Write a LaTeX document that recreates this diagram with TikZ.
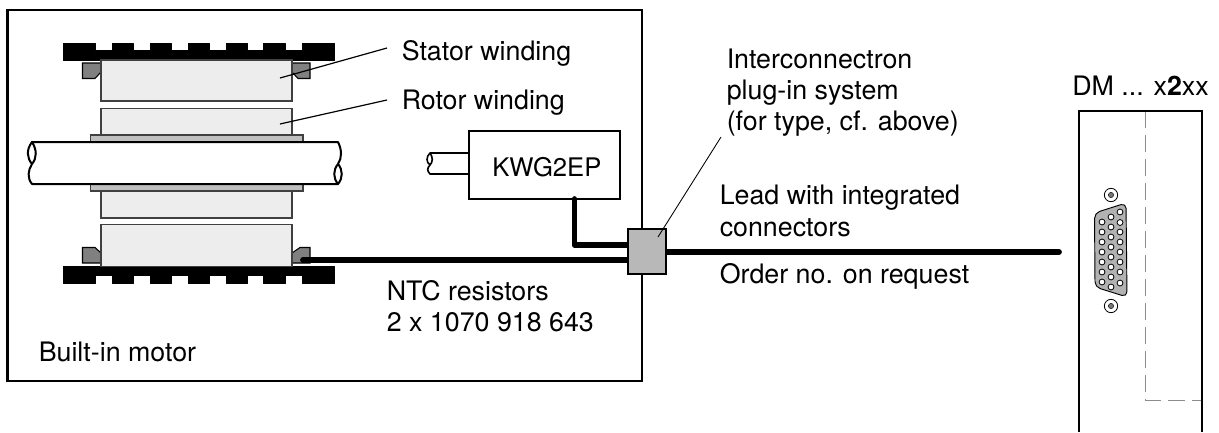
\documentclass[tikz,border=0pt]{standalone}
\usepackage{fontspec}
\setmainfont{TeX Gyre Heros}
\tikzset{
  box/.style={draw=black,line width=1.6pt,fill=white,inner sep=0pt},
  winding/.style={draw=black!75,line width=.9pt,fill=black!7,inner sep=0pt,minimum width=143.25pt},
  plate/.style={draw=black!75,line width=.9pt,fill=black!25,inner sep=0pt,minimum width=159.4pt,minimum height=5.25pt},
  endcap/.style={draw=black,line width=.8pt,fill=black!50},
  iron/.style={fill=black,draw=black,line width=.4pt,line join=round},
  cable/.style={line width=4.3pt,line cap=round,line join=round},
  leader/.style={line width=.9pt},
  thinleader/.style={line width=.65pt},
  shaftline/.style={line width=1.5pt},
  label/.style={anchor=base west,inner sep=0pt,font=\fontsize{20.1pt}{23pt}\selectfont},
  pin/.style={circle,draw=black,line width=.6pt,fill=white,inner sep=0pt,minimum size=4.4pt},
  screw/.style={circle,draw=black,line width=.6pt,fill=white,inner sep=0pt,minimum size=10pt},
  screwcore/.style={circle,fill=black!55,draw=black,line width=.3pt,inner sep=0pt,minimum size=4pt},
  hidden/.style={draw=black!45,line width=.7pt,dash pattern=on 13pt off 5pt},
  plugbox/.style={draw=black,line width=1.5pt,fill=black!28,inner sep=0pt,minimum width=28.5pt,minimum height=33.75pt}
}
\begin{document}
\begin{tikzpicture}[x=.75pt,y=-.75pt]
\useasboundingbox (0,0) rectangle (1219,432);
\fill[white] (0,0) rectangle (1219,432);
% housing
\node[box,minimum width=476pt,minimum height=278.25pt] (motor) at (324.8,195.5) {};
% laminations
\draw[iron] (63,43)--(95,43)--(95,50.5)--(112,50.5)--(112,43)--(133,43)--(133,50.5)--(150,50.5)--(150,43)--(171,43)--(171,50.5)--(188,50.5)--(188,43)--(209,43)--(209,50.5)--(226,50.5)--(226,43)--(247,43)--(247,50.5)--(263,50.5)--(263,43)--(285,43)--(285,50.5)--(302,50.5)--(302,43)--(334,43)--(334,60)--(63,60)--cycle;
\draw[iron] (63,266)--(334,266)--(334,283)--(302,283)--(302,275.5)--(285,275.5)--(285,283)--(263,283)--(263,275.5)--(247,275.5)--(247,283)--(226,283)--(226,275.5)--(209,275.5)--(209,283)--(188,283)--(188,275.5)--(171,275.5)--(171,283)--(150,283)--(150,275.5)--(133,275.5)--(133,283)--(112,283)--(112,275.5)--(95,275.5)--(95,283)--(63,283)--cycle;
% end caps
\draw[endcap] (82.5,63)--(101,63)--(101,72)--(95,78.5)--(82.5,78.5)--cycle;
\draw[endcap] (292,63)--(310,63)--(310,78.5)--(298,78.5)--(292,72)--cycle;
\draw[endcap] (82.5,247.5)--(95,247.5)--(101,253)--(101,263)--(82.5,263)--cycle;
\draw[endcap] (292,253)--(300,247.5)--(310,247.5)--(310,263)--(292,263)--cycle;
% windings
\node[winding,minimum height=30.75pt] (statorA) at (196.5,80.5) {};
\node[winding,minimum height=19.9pt] (rotorA) at (196.5,121.8) {};
\node[winding,minimum height=20.25pt] (rotorB) at (196.5,204.5) {};
\node[winding,minimum height=31.5pt] (statorB) at (196.5,245.5) {};
\node[plate] (plateA) at (196.7,138.5) {};
\node[plate] (plateB) at (196.7,187.5) {};
% shaft
\fill[white] (32,142)--(338,142)--(338,184)--(32,184)--cycle;
\draw[shaftline,line cap=round]
  (32,142)--(338,142)
  (32,184)--(338,184)
  (32,142) .. controls (26,150) and (27,158) .. (32,164) .. controls (28,170) and (27,178) .. (32,184)
  (32,142) .. controls (37,150) and (37,158) .. (32,164)
  (338,142) .. controls (342,150) and (342,158) .. (338,164) .. controls (333,170) and (333,178) .. (338,184)
  (338,164) .. controls (343,170) and (343,178) .. (338,184);
% leaders
\coordinate (statorleader) at (387,48);
\coordinate (rotorleader) at (387,100);
\coordinate (statorpt) at (280,78);
\coordinate (rotorpt) at (280,124);
\draw[leader] (statorleader)--(statorpt);
\draw[leader] (rotorleader)--(rotorpt);
% encoder
\node[box,minimum width=113.25pt,minimum height=51pt] (kwg) at (544.5,165) {};
\node[anchor=base,inner sep=0pt,font=\fontsize{19.2pt}{22pt}\selectfont] (kwgtext) at (546.8,176) {KWG2EP};
\coordinate (enca) at (430,153);
\coordinate (encb) at (430,174);
\draw[line width=1.2pt,line cap=round] (enca)--(kwg.west |- enca) (encb)--(kwg.west |- encb)
  (enca) .. controls (426,157) and (426,162) .. (430,165) .. controls (427,168) and (427,171) .. (encb)
  (enca) .. controls (433,157) and (433,162) .. (430,165);
% cables
\node[plugbox] (plug) at (647,251.5) {};
\coordinate (kwgout) at (574.5,199);
\coordinate (kwgin) at (630,245);
\coordinate (ntc) at (303,260);
\coordinate (ntcin) at (630,260);
\coordinate (leadout) at (664,252);
\coordinate (leadend) at (1059,252);
\draw[cable] (kwgout) |- (kwgin);
\draw[cable] (ntc)--(ntcin);
\draw[cable] (leadout)--(leadend);
\node[plugbox] (plugtop) at (647,251.5) {};
\coordinate (plugleader) at (721,137);
\coordinate (plugpt) at (658,237);
\draw[thinleader] (plugleader)--(plugpt);
% drive panel
\coordinate (pa) at (1079,432);
\coordinate (pb) at (1079,111);
\coordinate (pc) at (1202,111);
\coordinate (pd) at (1202,432);
\coordinate (ha) at (1145,111);
\coordinate (hb) at (1145,400);
\coordinate (hc) at (1202,400);
\draw[hidden] (ha)--(hb)--(hc);
\draw[line width=1.5pt] (pa)--(pb)--(pc)--(pd);
% D-sub connector
\node[screw] (sa) at (1111,195) {};
\node[screwcore] (sac) at (1111,195) {};
\node[screw] (sb) at (1111,306) {};
\node[screwcore] (sbc) at (1111,306) {};
\draw[draw=black,line width=.7pt,fill=black!30,rounded corners=4pt] (1094.5,213)--(1126,203)--(1127,297)--(1095,287)--cycle;
\foreach \y [count=\i] in {222,232,242,252,262,272,282}{\node[pin] (pl\i) at (1102,\y) {};}
\foreach \y [count=\i] in {217,227,237,247,257,267,277,287}{\node[pin] (pm\i) at (1111,\y) {};}
\foreach \y [count=\i] in {212,222.5,232,242,252,262,272,283}{\node[pin] (pr\i) at (1120,\y) {};}
% labels
\node[label] (t1) at (401.5,60) {Stator winding};
\node[label] (t2) at (401.5,109) {Rotor winding};
\node[label] (t3) at (726.5,68) {Interconnectron};
\node[label] (t4) at (726.5,99) {plug-in system};
\node[label] (t5) at (726.5,130) {(for type, cf. above)};
\node[label] (t6) at (1072,95) {DM ... x\textbf{2}xx};
\node[label] (t7) at (719.5,204) {Lead with integrated};
\node[label] (t8) at (719.5,236) {connectors};
\node[label] (t9) at (719.5,283) {Order no. on request};
\node[label] (t10) at (386.5,300) {NTC resistors};
\node[label] (t11) at (386.5,331) {2 x 1070 918 643};
\node[label] (t12) at (38.5,361) {Built-in motor};
\end{tikzpicture}
\end{document}
